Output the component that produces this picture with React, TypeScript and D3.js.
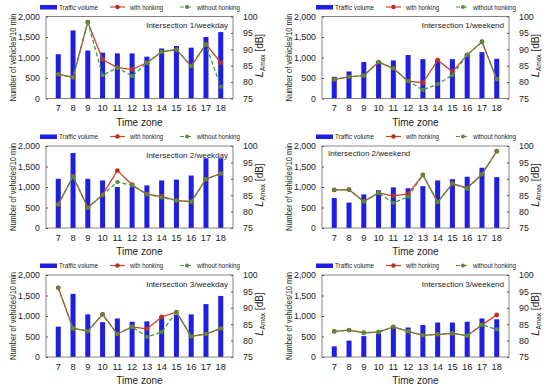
import React, { useEffect, useRef } from 'react';
import * as d3 from 'd3';

// time zones (hours)
const hours = ['7', '8', '9', '10', '11', '12', '13', '14', '15', '16', '17', '18'];

const panelTitles = [
  'Intersection 1/weekday', 'Intersection 1/weekend',
  'Intersection 2/weekday', 'Intersection 2/weekend',
  'Intersection 3/weekday', 'Intersection 3/weekend',
];

// traffic volume (vehicles / 10 min)
const volume1wd = [1080, 1660, 1170, 1120, 1100, 1100, 1020, 1220, 1280, 1240, 1500, 1620];
const volume1we = [530, 660, 890, 910, 930, 1060, 960, 950, 960, 1090, 1130, 970];
const volume2wd = [1200, 1830, 1200, 1160, 1000, 1000, 1040, 1160, 1180, 1280, 1700, 1700];
const volume2we = [730, 620, 820, 920, 990, 970, 1020, 1160, 1190, 1250, 1470, 1240];
const volume3wd = [740, 1540, 1040, 850, 940, 860, 870, 990, 1030, 1040, 1290, 1490];
const volume3we = [260, 400, 510, 570, 730, 720, 780, 840, 840, 860, 940, 920];

// LAmax with honking (dB)
const withH1wd = [82.4, 81.4, 98.3, 86.9, 84.4, 83.9, 85.9, 89.2, 89.9, 84.9, 91.6, 85.9];
const withH1we = [80.8, 81.6, 82.0, 86.1, 84.2, 80.3, 79.8, 86.7, 83.2, 88.3, 92.3, 80.9];
const withH2wd = [82.2, 90.7, 81.2, 85.1, 92.5, 88.2, 85.3, 84.6, 83.4, 83.0, 89.9, 91.6];
const withH2we = [86.6, 86.7, 83.1, 85.7, 84.8, 85.4, 91.2, 82.9, 88.5, 87.2, 91.4, 98.4];
const withH3wd = [96.1, 83.7, 82.9, 88.0, 82.0, 84.2, 83.6, 87.2, 88.7, 81.3, 82.0, 83.7];
const withH3we = [82.8, 83.2, 82.4, 82.6, 84.2, 82.8, 81.6, 81.9, 82.2, 81.5, 84.8, 87.8];

// LAmax without honking (dB)
const withoutH1wd = [82.4, 81.4, 98.3, 82.1, 84.4, 81.8, 85.9, 89.2, 89.9, 84.9, 91.4, 78.6];
const withoutH1we = [80.8, 81.6, 82.0, 86.1, 84.2, 80.3, 77.6, 79.4, 82.1, 88.3, 92.3, 80.9];
const withoutH2wd = [82.2, 90.7, 81.2, 85.1, 89.0, 88.0, 85.3, 84.3, 83.4, 83.0, 89.9, 91.6];
const withoutH2we = [86.6, 86.7, 83.1, 85.7, 82.7, 84.5, 91.2, 82.9, 88.5, 87.0, 91.4, 98.4];
const withoutH3wd = [96.1, 83.7, 82.9, 88.0, 82.0, 84.2, 81.1, 82.6, 88.7, 81.3, 82.0, 83.7];
const withoutH3we = [82.8, 83.2, 82.4, 82.6, 84.2, 82.8, 81.6, 81.9, 82.2, 81.5, 84.8, 83.4];

const volumes = [volume1wd, volume1we, volume2wd, volume2we, volume3wd, volume3we];
const withHonking = [withH1wd, withH1we, withH2wd, withH2we, withH3wd, withH3we];
const withoutHonking = [withoutH1wd, withoutH1we, withoutH2wd, withoutH2we, withoutH3wd, withoutH3we];

const volumeTicks = [0, 500, 1000, 1500, 2000];
const levelTicks = [75, 80, 85, 90, 95, 100];

const BAR = '#1f1fe3';
const RED = '#c9452e';
const GREEN = '#3f9a3a';

export default function App() {
  const ref = useRef<SVGSVGElement>(null);

  useEffect(() => {
    const svg = d3.select(ref.current);
    svg.selectAll('*').remove();
    const font = 'Liberation Sans, Arial, sans-serif';

    const colX = [46, 322];
    const rowY = [16.5, 146, 275];
    const w = 187;
    const h = 82;

    panelTitles.forEach((title, p) => {
      const x0 = colX[p % 2];
      const y0 = rowY[Math.floor(p / 2)];
      const g = svg.append('g').attr('transform', `translate(${x0},${y0})`);

      const xScale = d3.scaleBand().domain(hours).range([0, w]).padding(0.66);
      const yLeft = d3.scaleLinear().domain([0, 2000]).range([h, 0]);
      const yRight = d3.scaleLinear().domain([75, 100]).range([h, 0]);

      // bars
      g.selectAll('rect.bar')
        .data(volumes[p])
        .join('rect')
        .attr('class', 'bar')
        .attr('x', (d, i) => xScale(hours[i])!)
        .attr('y', d => yLeft(d))
        .attr('width', xScale.bandwidth())
        .attr('height', d => h - yLeft(d))
        .attr('fill', BAR);

      // frame
      g.append('rect')
        .attr('width', w).attr('height', h)
        .attr('fill', 'none').attr('stroke', '#666').attr('stroke-width', 0.8);

      const cx = (i: number) => xScale(hours[i])! + xScale.bandwidth() / 2;
      const line = d3.line<number>().x((d, i) => cx(i)).y(d => yRight(d));

      // with honking
      g.append('path').datum(withHonking[p])
        .attr('d', line).attr('fill', 'none').attr('stroke', RED).attr('stroke-width', 1.3);
      g.selectAll('circle.wh').data(withHonking[p]).join('circle')
        .attr('class', 'wh').attr('cx', (d, i) => cx(i)).attr('cy', d => yRight(d))
        .attr('r', 2.4).attr('fill', '#b8321f');

      // without honking
      g.append('path').datum(withoutHonking[p])
        .attr('d', line).attr('fill', 'none').attr('stroke', GREEN).attr('stroke-width', 1.3)
        .attr('stroke-dasharray', '4,2.5');
      g.selectAll('circle.woh').data(withoutHonking[p]).join('circle')
        .attr('class', 'woh').attr('cx', (d, i) => cx(i)).attr('cy', d => yRight(d))
        .attr('r', 2.1).attr('fill', '#4f8f3a');

      // left axis
      const left = g.append('g').call(d3.axisLeft(yLeft).tickValues(volumeTicks).tickSize(-2).tickPadding(6));
      left.select('.domain').remove();
      left.selectAll('line').attr('stroke', '#555');
      left.selectAll('text').attr('font-size', 8.8).attr('font-family', font).attr('fill', '#222');

      // right axis
      const right = g.append('g').attr('transform', `translate(${w},0)`)
        .call(d3.axisRight(yRight).tickValues(levelTicks).tickSize(-2).tickPadding(10));
      right.select('.domain').remove();
      right.selectAll('line').attr('stroke', '#555');
      right.selectAll('text').attr('font-size', 8.8).attr('font-family', font).attr('fill', '#222');

      // bottom axis
      const bottom = g.append('g').attr('transform', `translate(0,${h})`)
        .call(d3.axisBottom(xScale).tickSize(0).tickPadding(6));
      bottom.select('.domain').remove();
      bottom.selectAll('text').attr('font-size', 9.3).attr('font-family', font).attr('fill', '#222');

      // axis titles
      g.append('text')
        .attr('x', w / 2).attr('y', h + 27)
        .attr('text-anchor', 'middle').attr('font-size', 10).attr('font-family', font).attr('fill', '#222')
        .text('Time zone');

      g.append('text')
        .attr('transform', `translate(-30,${h / 2}) rotate(-90) scale(0.8,1)`)
        .attr('text-anchor', 'middle').attr('font-size', 9.3).attr('font-family', font).attr('fill', '#222')
        .text('Number of vehicles/10 min');

      const rt = g.append('text')
        .attr('transform', `translate(${w + 30},${h / 2 - 2}) rotate(-90)`)
        .attr('text-anchor', 'middle').attr('font-family', font).attr('fill', '#222');
      rt.append('tspan').attr('font-size', 11).attr('font-style', 'italic').text('L');
      rt.append('tspan').attr('font-size', 6.5).attr('dy', 2).text('Amax');
      rt.append('tspan').attr('font-size', 10).attr('dy', -2).text(' [dB]');

      // panel label
      const leftLabel = p === 3;
      g.append('text')
        .attr('x', leftLabel ? 6 : w - 5).attr('y', leftLabel ? 10 : 11.5)
        .attr('text-anchor', leftLabel ? 'start' : 'end')
        .attr('font-size', 8).attr('font-family', font).attr('fill', '#222')
        .text(title);

      // legend
      const lg = g.append('g').attr('transform', 'translate(0,-9.5)');
      lg.append('rect').attr('x', -6).attr('y', -2).attr('width', 17).attr('height', 4.5).attr('fill', BAR);
      lg.append('text').attr('x', 13).attr('y', 2.5).attr('font-size', 7).attr('font-family', font)
        .attr('textLength', 39).attr('lengthAdjust', 'spacingAndGlyphs').attr('fill', '#222').text('Traffic volume');
      lg.append('line').attr('x1', 64).attr('x2', 79).attr('y1', 0).attr('y2', 0).attr('stroke', RED).attr('stroke-width', 1.2);
      lg.append('circle').attr('cx', 71.5).attr('cy', 0).attr('r', 2.3).attr('fill', '#b8321f');
      lg.append('text').attr('x', 84).attr('y', 2.5).attr('font-size', 7).attr('font-family', font)
        .attr('textLength', 33).attr('lengthAdjust', 'spacingAndGlyphs').attr('fill', '#222').text('with honking');
      lg.append('line').attr('x1', 134).attr('x2', 148).attr('y1', 0).attr('y2', 0).attr('stroke', GREEN)
        .attr('stroke-width', 1.2).attr('stroke-dasharray', '4,3');
      lg.append('circle').attr('cx', 141).attr('cy', 0).attr('r', 2).attr('fill', '#4f8f3a');
      lg.append('text').attr('x', 151).attr('y', 2.5).attr('font-size', 7).attr('font-family', font)
        .attr('textLength', 43).attr('lengthAdjust', 'spacingAndGlyphs').attr('fill', '#222').text('without honking');
    });
  }, []);

  return (
    <svg ref={ref} width={550} height={388} viewBox="0 0 550 388"
      style={{ position: 'absolute', left: 0, top: 0, background: '#fff' }} />
  );
}
